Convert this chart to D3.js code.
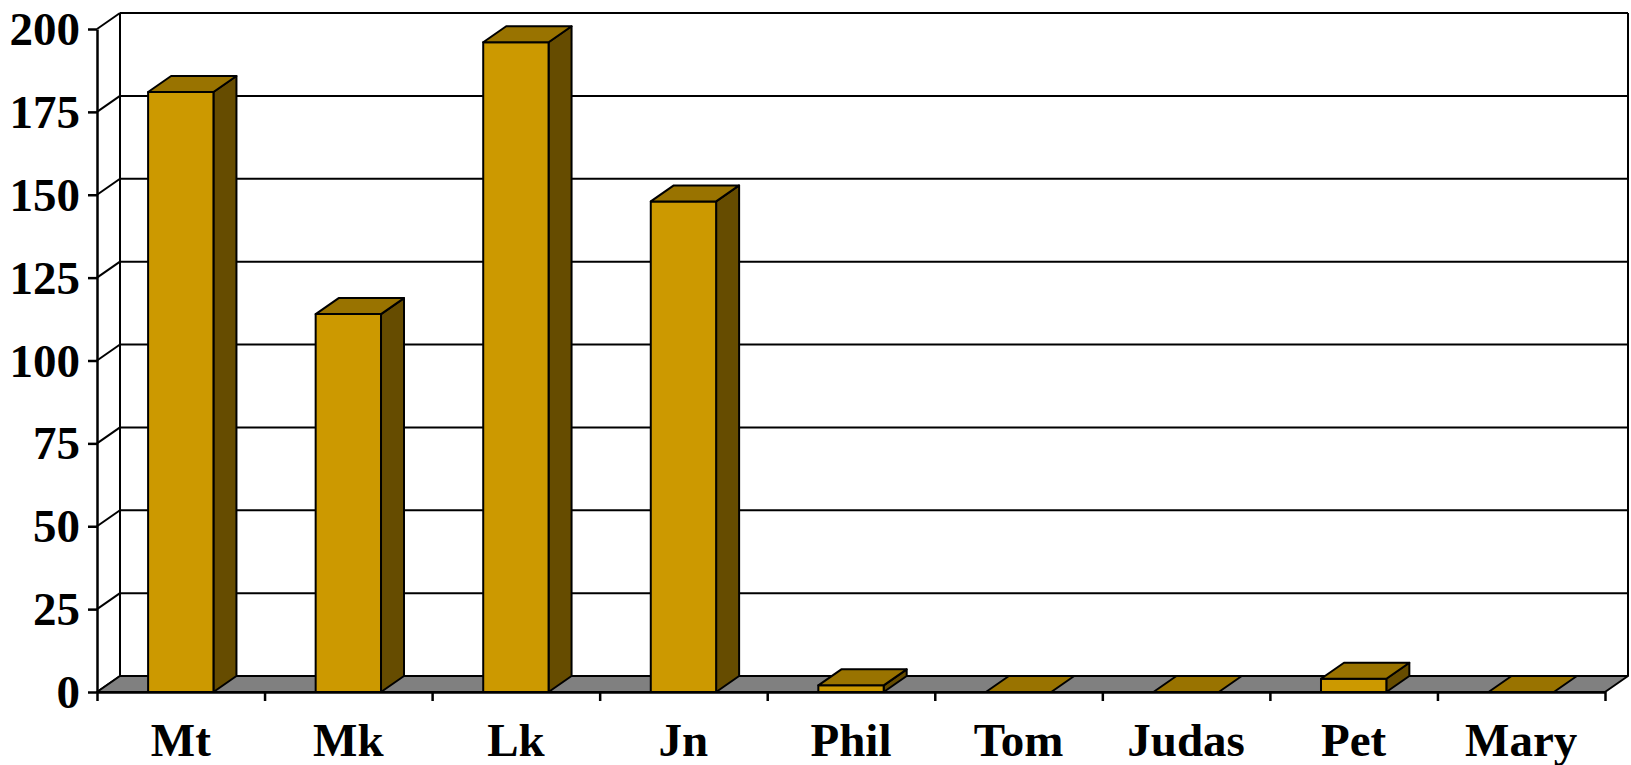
<!DOCTYPE html>
<html>
<head>
<meta charset="utf-8">
<script src="https://cdn.jsdelivr.net/npm/d3@7"></script>
<style>
  body { margin: 0; background: #fff; }
  svg text { font-family: "Liberation Serif", "Times New Roman", serif; font-weight: bold; }
</style>
</head>
<body>
<svg id="chart" width="1631" height="765"></svg>
<script>
const categories = ['Mt', 'Mk', 'Lk', 'Jn', 'Phil', 'Tom', 'Judas', 'Pet', 'Mary'];
const values = [181, 114, 196, 148, 2, 0, 0, 4, 0];
const yTicks = [0, 25, 50, 75, 100, 125, 150, 175, 200];

const plotLeft = 97, plotRight = 1605, plotBottom = 692, plotTop = 29;
const dx = 23, dy = 16; // 3d depth offset

const svg = d3.select('#chart');

const x = d3.scaleBand()
  .domain(categories)
  .range([plotLeft, plotRight])
  .paddingInner(0.61)
  .paddingOuter(0.305);

const xEdge = d3.scaleLinear()
  .domain([0, categories.length])
  .range([plotLeft, plotRight]);

const y = d3.scaleLinear()
  .domain([0, 200])
  .range([plotBottom, plotTop]);

// side wall diagonals + back wall gridlines
const walls = svg.append('g').attr('stroke', '#000').attr('stroke-width', 2);
yTicks.forEach(t => {
  walls.append('line')
    .attr('x1', plotLeft).attr('y1', y(t))
    .attr('x2', plotLeft + dx).attr('y2', y(t) - dy);
  walls.append('line')
    .attr('x1', plotLeft + dx).attr('y1', y(t) - dy)
    .attr('x2', plotRight + dx).attr('y2', y(t) - dy);
});
walls.append('line')
  .attr('x1', plotLeft + dx).attr('y1', y(200) - dy)
  .attr('x2', plotLeft + dx).attr('y2', y(0) - dy);
walls.append('line')
  .attr('x1', plotRight + dx).attr('y1', y(200) - dy)
  .attr('x2', plotRight + dx).attr('y2', y(0) - dy);

// floor
svg.append('path')
  .attr('d', `M${plotLeft},${y(0)} L${plotRight},${y(0)} L${plotRight + dx},${y(0) - dy} L${plotLeft + dx},${y(0) - dy} Z`)
  .attr('fill', '#808080')
  .attr('stroke', '#000')
  .attr('stroke-width', 2)
  .attr('stroke-linejoin', 'round');

// bars
const bars = svg.append('g')
  .attr('stroke', '#000')
  .attr('stroke-width', 2)
  .attr('stroke-linejoin', 'round');

categories.forEach((c, i) => {
  const x0 = x(c), x1 = x(c) + x.bandwidth();
  const yt = y(values[i]), yb = y(0);
  if (yb - yt > 0.5) {
    bars.append('path')
      .attr('d', `M${x1},${yb} L${x1 + dx},${yb - dy} L${x1 + dx},${yt - dy} L${x1},${yt} Z`)
      .attr('fill', '#664c00');
    bars.append('rect')
      .attr('x', x0).attr('y', yt)
      .attr('width', x1 - x0).attr('height', yb - yt)
      .attr('fill', '#cc9900');
  }
  bars.append('path')
    .attr('d', `M${x0},${yt} L${x1},${yt} L${x1 + dx},${yt - dy} L${x0 + dx},${yt - dy} Z`)
    .attr('fill', '#997300');
});

// y axis
const yAxis = svg.append('g')
  .attr('transform', `translate(${plotLeft},0)`)
  .call(d3.axisLeft(y).tickValues(yTicks).tickSize(9).tickSizeOuter(0).tickPadding(8));
yAxis.select('.domain').attr('stroke-width', 2.5);
yAxis.selectAll('.tick line').attr('stroke-width', 2.5);
yAxis.selectAll('.tick text')
  .attr('font-size', 47)
  .attr('fill', '#000')
  .attr('dy', '0.33em');

// x axis
const xAxis = svg.append('g')
  .attr('transform', `translate(0,${plotBottom})`)
  .call(d3.axisBottom(xEdge).tickValues(d3.range(categories.length + 1)).tickSize(9).tickSizeOuter(0).tickFormat(''));
xAxis.select('.domain').attr('stroke-width', 2.5);
xAxis.selectAll('.tick line').attr('stroke-width', 2.5);

svg.append('g')
  .selectAll('text')
  .data(categories)
  .join('text')
  .attr('x', d => x(d) + x.bandwidth() / 2)
  .attr('y', 756)
  .attr('text-anchor', 'middle')
  .attr('font-size', 47)
  .text(d => d);
</script>
</body>
</html>
